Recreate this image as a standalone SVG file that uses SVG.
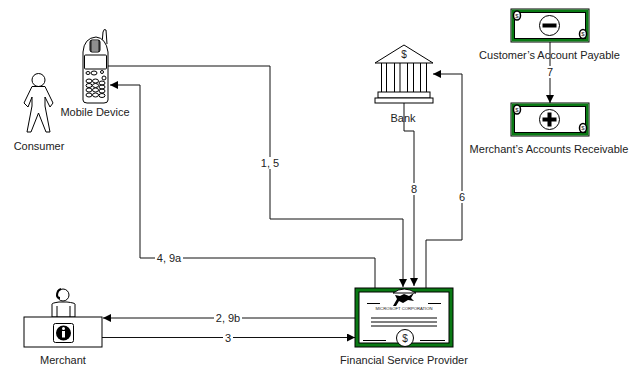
<svg xmlns="http://www.w3.org/2000/svg" width="637" height="367" viewBox="0 0 637 367">
<style>
text{font-family:"Liberation Sans",Arial,sans-serif;font-size:11px;fill:#222;text-anchor:middle}
.s{fill:none;stroke:#000;stroke-width:1}
.w{fill:#fff;stroke:#000;stroke-width:1}
.c{fill:none;stroke:#111;stroke-width:1}
.l{fill:#fff;stroke:none}
</style>
<defs>
<marker id="a" markerUnits="userSpaceOnUse" markerWidth="10" markerHeight="10" refX="8" refY="4" orient="auto"><path d="M0 0L8 4L0 8Z" fill="#000"/></marker>
<g id="bill">
<rect x="511" y="9" width="78" height="33" fill="#fff" stroke="#000"/>
<rect x="513" y="11" width="74" height="29" fill="none" stroke="#0a7a14" stroke-width="3"/>
<rect x="514.500" y="12.500" width="71" height="26" fill="none" stroke="#000" stroke-width="1"/>
<ellipse cx="517" cy="15.500" rx="3.500" ry="4.500" fill="#fff" stroke="#000" stroke-width="1.500"/>
<ellipse cx="583" cy="34" rx="3.500" ry="4.500" fill="#fff" stroke="#000" stroke-width="1.500"/>
<circle cx="549.500" cy="25.500" r="10" fill="#fff" stroke="#000" stroke-width="1"/>
</g>
</defs>
<g id="connectors">
<path class="c" d="M108 66H270V219H403V287" marker-end="url(#a)"/>
<path class="c" d="M404 103V131H414V286" marker-end="url(#a)"/>
<path class="c" d="M426 288V240H462V74H433" marker-end="url(#a)"/>
<path class="c" d="M375 288V258H140V85H110" marker-end="url(#a)"/>
<path class="c" d="M355 318H103" marker-end="url(#a)"/>
<path class="c" d="M102 337.500H355" marker-end="url(#a)"/>
<path class="c" d="M550 42V103" marker-end="url(#a)"/>
</g>
<g id="consumer">
<circle cx="38.500" cy="80" r="6.500" class="w"/>
<path class="w" d="M32 86.500H45L53 103L50 107L45 97L45 106L50 132H46L38.500 113L31 132H27L32 106V97L28 107L24 103Z"/>
<text x="39" y="150">Consumer</text>
</g>
<g id="mobile-device">
<path class="w" d="M102 44L103 32Q104 28 106 30L107 44"/>
<path class="w" d="M83 52Q84 38 96 37Q106 38 108 52V100Q108 103 104 103H87Q83 103 83 100Z"/>
<rect x="90" y="40" width="10" height="12" rx="2" fill="#555" stroke="#000"/>
<path d="M93 40V52M95 40V52M97 40V52" stroke="#fff" stroke-width="0.700" fill="none"/>
<rect x="84.500" y="55" width="22" height="14" rx="1" class="w"/>
<g class="s">
<ellipse cx="88" cy="73" rx="2" ry="1.500"/><ellipse cx="94" cy="73" rx="3" ry="2"/><ellipse cx="102" cy="72" rx="1.500" ry="1.500"/><ellipse cx="104" cy="78" rx="2" ry="2"/>
<ellipse cx="89" cy="81" rx="3" ry="2"/><ellipse cx="95.500" cy="81" rx="3" ry="2"/><ellipse cx="102" cy="83" rx="3" ry="2"/>
<ellipse cx="89" cy="85.500" rx="3" ry="2"/><ellipse cx="95.500" cy="85.500" rx="3" ry="2"/><ellipse cx="102" cy="87" rx="3" ry="2"/>
<ellipse cx="89" cy="90" rx="3" ry="2"/><ellipse cx="95.500" cy="90" rx="3" ry="2"/><ellipse cx="102" cy="91" rx="3" ry="2"/>
<ellipse cx="89" cy="95" rx="3" ry="2"/><ellipse cx="95.500" cy="95" rx="3" ry="2"/><ellipse cx="102" cy="95.500" rx="3" ry="2"/>
</g>
<text x="95" y="116">Mobile Device</text>
</g>
<g id="bank">
<path class="w" d="M404 45L433 63H375Z"/>
<text x="404" y="57.500" style="font-size:10px">$</text>
<path class="s" d="M381.500 63V92M386.500 63V92M394.500 63V92M400 63V92M407.500 63V92M413.500 63V92M420.500 63V92M426.500 63V92"/>
<rect x="378" y="92" width="52" height="6" class="w"/>
<rect x="375" y="98" width="58" height="5" class="w"/>
<text x="403" y="122">Bank</text>
</g>
<g id="financial-service-provider">
<rect x="355" y="288" width="98" height="59" fill="#0a7a14" stroke="#000"/>
<rect x="359" y="292" width="90" height="51" fill="#fff" stroke="#000"/>
<path d="M393 293Q404 285 416 293Z" fill="#fff" stroke="#000"/>
<path d="M393 306L397 299L395 295L400 296L404 294L409 296L414 293L411 298L414 301L408 300L403 303L399 301L396 306Z" fill="#000"/>
<path class="s" d="M367 303.500H380M428 303.500H441M371 318H437M371 322H437M371 326H437M363 340.500H386M420 340.500H445"/>
<text x="404" y="310" fill="#333" style="font-size:4.200px">MICROSOFT CORPORATION</text>
<circle cx="405" cy="338" r="8.500" class="w" stroke-width="1.500"/>
<text x="405" y="341.500" style="font-size:10px">$</text>
<text x="404" y="364">Financial Service Provider</text>
</g>
<g id="merchant">
<circle cx="63" cy="295" r="6" class="w"/>
<path class="w" d="M52 317V304Q52 303 59 302H67Q75 303 75 304V317Z"/>
<path class="s" d="M57 306V317M70 306V317"/>
<path d="M57 296Q57 290 61 289M57 295Q57 298 60 298" fill="none" stroke="#000" stroke-width="2"/>
<rect x="24" y="317" width="78" height="30" class="w"/>
<rect x="53.500" y="323.500" width="20" height="19" rx="2" class="w"/>
<circle cx="63.500" cy="333" r="7.500" fill="#000"/>
<rect x="62" y="331" width="3" height="6.500" fill="#fff"/>
<circle cx="63.500" cy="328.500" r="1.500" fill="#fff"/>
<text x="63" y="364">Merchant</text>
</g>
<g id="customers-account-payable">
<use href="#bill"/>
<text x="517" y="18" style="font-size:6px">$</text>
<text x="583" y="36" style="font-size:6px">$</text>
<rect x="542.500" y="23.500" width="14" height="4" fill="#000"/>
<text x="549.500" y="59">Customer’s Account Payable</text>
</g>
<g id="merchants-accounts-receivable">
<use href="#bill" y="94"/>
<text x="517" y="112" style="font-size:6px">$</text>
<text x="583" y="130" style="font-size:6px">$</text>
<rect x="542.500" y="117.500" width="14" height="4" fill="#000"/>
<rect x="547.500" y="112.500" width="4" height="14" fill="#000"/>
<text x="549" y="153">Merchant’s Accounts Receivable</text>
</g>
<g id="labels">
<rect class="l" x="259" y="157" width="22" height="12"/><text x="270" y="167">1, 5</text>
<rect class="l" x="409" y="183" width="10" height="12"/><text x="414" y="193">8</text>
<rect class="l" x="457" y="191" width="10" height="12"/><text x="462" y="201">6</text>
<rect class="l" x="155" y="252" width="28" height="12"/><text x="169" y="262">4, 9a</text>
<rect class="l" x="214" y="312" width="28" height="12"/><text x="228" y="322">2, 9b</text>
<rect class="l" x="223" y="332" width="10" height="12"/><text x="228" y="342">3</text>
<rect class="l" x="545" y="66" width="10" height="12"/><text x="550" y="76">7</text>
</g>
</svg>
